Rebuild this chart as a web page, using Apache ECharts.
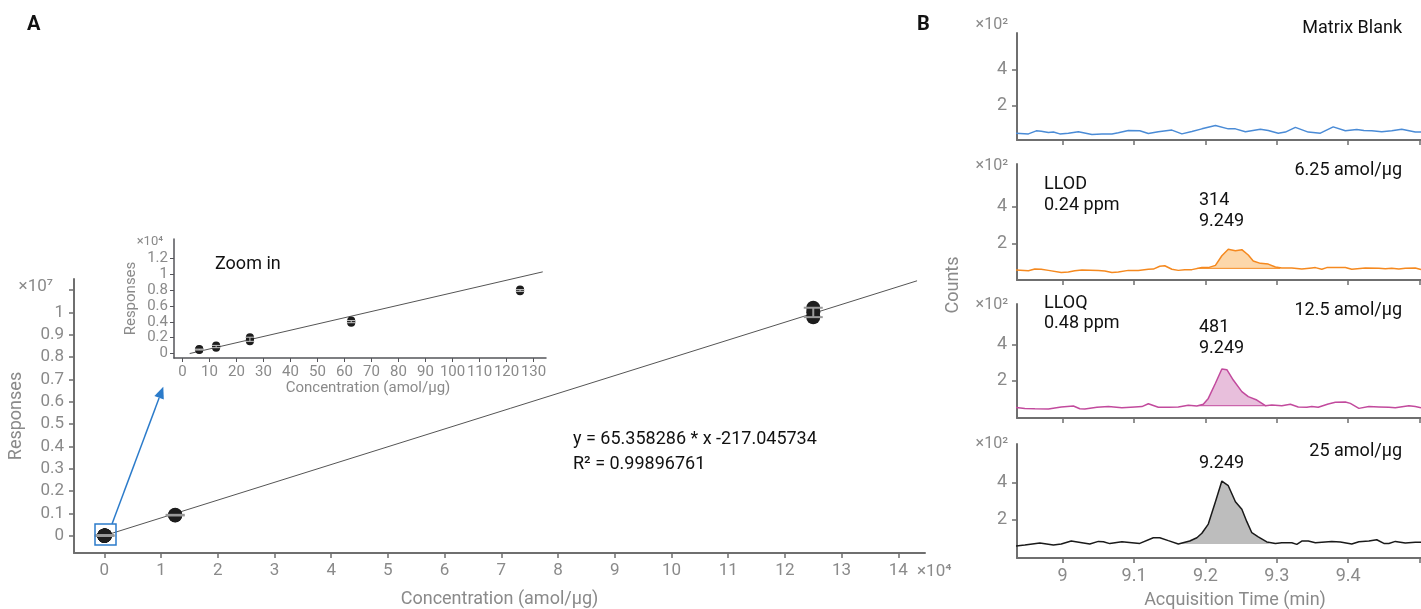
<!DOCTYPE html>
<html><head><meta charset="utf-8">
<script src="https://cdn.jsdelivr.net/npm/echarts@6/dist/echarts.min.js"></script>
<style>html,body{margin:0;padding:0;background:#fff}#c{width:1421px;height:609px}</style>
</head><body><div id="c"></div>
<script>
// ---------- DATA ----------
const concentrations = [6.25, 12.5, 25, 62.5, 125, 12500, 125000]; // amol/μg
const responses = [
  [450, 500, 560],
  [740, 880, 1030],
  [1540, 1800, 2060],
  [3890, 4020, 4160],
  [7840, 7950, 8060],
  [905000, 920000, 935000],
  [9780000, 10000000, 10200000]
];
const mainFit = [[0, 0], [143300, 11410000]];
const insetFit = [[2.7, 0], [133.4, 10300]];
const mainXTicks = [0,1,2,3,4,5,6,7,8,9,10,11,12,13,14];
const mainYLabels = [0,0.1,0.2,0.3,0.4,0.5,0.6,0.7,0.8,0.9,1];
const mainYTicks = [0,0.1,0.2,0.3,0.4,0.5,0.6,0.7,0.8,0.9,1,1.1];
const insetXTicks = [0,10,20,30,40,50,60,70,80,90,100,110,120,130];
const insetYTicks = [0,0.2,0.4,0.6,0.8,1,1.2];
const timeLabels = [9, 9.1, 9.2, 9.3, 9.4];
const timeTicks = [9, 9.1, 9.2, 9.3, 9.4, 9.5];
const countTicks = [200, 400];

const blankT = [8.933,8.952,8.963,8.970,8.980,8.987,8.996,9.008,9.022,9.041,9.055,9.069,9.078,9.092,9.108,9.120,9.134,9.153,9.167,9.181,9.195,9.214,9.232,9.242,9.256,9.277,9.288,9.302,9.312,9.326,9.344,9.361,9.379,9.396,9.412,9.422,9.433,9.447,9.461,9.475,9.494,9.502];
const blankV = [48,44,61,59,52,54,44,48,56,41,43,44,50,63,61,46,56,65,44,57,72,91,72,72,56,70,63,48,54,80,54,48,83,61,69,63,61,56,61,70,54,54];

const c625T = [8.933,8.952,8.961,8.970,8.980,8.998,9.008,9.017,9.027,9.050,9.059,9.069,9.078,9.092,9.106,9.120,9.127,9.136,9.143,9.153,9.162,9.171,9.181,9.195,9.204,9.214,9.223,9.232,9.242,9.251,9.260,9.267,9.277,9.288,9.298,9.307,9.321,9.335,9.349,9.354,9.363,9.370,9.382,9.396,9.405,9.424,9.443,9.452,9.461,9.471,9.480,9.494,9.502];
const c625V = [59,55,64,63,57,46,48,55,59,57,54,46,48,57,57,63,64,79,82,63,57,61,61,73,72,84,136,171,163,169,140,108,95,91,75,70,70,64,70,72,63,72,72,73,63,70,68,66,68,64,68,70,61];
const c625Peak = [9.188, 9.305, 68];

const c125T = [8.933,8.947,8.961,8.980,8.998,9.015,9.024,9.031,9.048,9.064,9.083,9.101,9.111,9.120,9.134,9.148,9.162,9.176,9.188,9.197,9.204,9.214,9.223,9.230,9.239,9.251,9.260,9.272,9.284,9.293,9.307,9.319,9.330,9.342,9.349,9.358,9.372,9.382,9.396,9.403,9.415,9.429,9.443,9.457,9.466,9.485,9.494,9.502];
const c125V = [50,44,42,40,52,57,42,40,50,54,48,52,54,70,50,50,52,61,57,67,100,185,265,261,203,138,110,91,59,63,59,67,52,50,54,50,69,78,80,72,44,54,52,50,48,59,54,48];
const c125Peak = [9.190, 9.285, 59];

const c25T = [8.933,8.947,8.968,8.987,8.998,9.012,9.027,9.038,9.050,9.057,9.066,9.083,9.097,9.108,9.127,9.136,9.148,9.162,9.178,9.188,9.195,9.204,9.214,9.223,9.232,9.242,9.251,9.258,9.265,9.274,9.286,9.298,9.307,9.321,9.328,9.335,9.344,9.354,9.377,9.389,9.405,9.415,9.429,9.440,9.450,9.457,9.466,9.480,9.494,9.502];
const c25V = [57,62,73,62,68,84,75,68,82,80,70,80,75,71,102,102,86,68,84,102,126,176,297,409,384,297,256,189,129,107,79,71,75,75,66,84,84,75,82,79,68,80,84,91,71,71,82,73,77,77];
const c25Peak = [9.162, 9.290, 68];

// ---------- HELPERS ----------
const AX = '#6f6f6f', LB = '#8a8a8a', TXT = '#111', FONT = 'Roboto';
function stats(arr){
  const m = arr.reduce((a,b)=>a+b,0)/arr.length;
  const sd = Math.sqrt(arr.reduce((a,b)=>a+(b-m)*(b-m),0)/(arr.length-1));
  return [m, sd];
}
function errRender(capW, color, lw){
  return function(params, api){
    const x = api.value(0), lo = api.value(1), hi = api.value(2);
    const a = api.coord([x, lo]), b = api.coord([x, hi]);
    const h = capW/2, st = {stroke: color, lineWidth: lw};
    return {type:'group', children:[
      {type:'line', shape:{x1:b[0]-h,y1:b[1],x2:b[0]+h,y2:b[1]}, style:st},
      {type:'line', shape:{x1:a[0]-h,y1:a[1],x2:a[0]+h,y2:a[1]}, style:st},
      {type:'line', shape:{x1:a[0],y1:a[1],x2:b[0],y2:b[1]}, style:st}
    ]};
  };
}
function valAxis(o){
  const base = {
    type:'value', splitLine:{show:false},
    axisLine:{show:true, onZero:false, lineStyle:{color:AX, width:2}},
    axisTick:{show:true, length:5, lineStyle:{color:AX, width:1.5}},
    axisLabel:{color:LB, fontFamily:FONT, fontSize:17}
  };
  const r = Object.assign({}, base, o);
  r.axisLine = Object.assign({}, base.axisLine, o.axisLine||{});
  r.axisTick = Object.assign({}, base.axisTick, o.axisTick||{});
  r.axisLabel = Object.assign({}, base.axisLabel, o.axisLabel||{});
  return r;
}
const fmt = v => String(+(+v).toFixed(2));

// main scatter + error bars
const mainPts = [], insetPts = [], mainErr = [], insetErr = [];
concentrations.forEach((c,i)=>{
  const [m, sd] = stats(responses[i]);
  responses[i].forEach(r => mainPts.push([c/1e4, r/1e7]));
  mainErr.push([c/1e4, (m-sd)/1e7, (m+sd)/1e7]);
  if (c <= 130){
    responses[i].forEach(r => insetPts.push([c, r/1e4]));
    insetErr.push([c, (m-sd)/1e4, (m+sd)/1e4]);
  }
});

const grids = [
  {left:74, top:279, width:851, height:274},
  {left:174, top:239, width:372, height:119},
  {left:1017, top:33, width:404, height:107},
  {left:1017, top:164, width:404, height:116},
  {left:1017, top:304, width:404, height:114},
  {left:1017, top:444, width:404, height:114}
].map(g => Object.assign({containLabel:false, outerBoundsMode:'none'}, g));

const xAxes = [
  valAxis({gridIndex:0, min:-0.534, max:14.47,
    name:'Concentration (amol/μg)', nameLocation:'middle', nameGap:37,
    nameTextStyle:{color:LB, fontFamily:FONT, fontSize:18},
    axisTick:{customValues:mainXTicks}, axisLabel:{customValues:mainXTicks, margin:9, formatter:fmt}}),
  valAxis({gridIndex:1, min:-3.1, max:134.6,
    name:'Concentration (amol/μg)', nameLocation:'middle', nameGap:23,
    nameTextStyle:{color:LB, fontFamily:FONT, fontSize:15, padding:[0,0,0,16]},
    axisLine:{lineStyle:{width:1.5}},
    axisTick:{customValues:insetXTicks, length:4, lineStyle:{width:1}}, axisLabel:{customValues:insetXTicks, margin:7, fontSize:15, formatter:fmt}})
];
const yAxes = [
  valAxis({gridIndex:0, min:-0.0774, max:1.149,
    name:'Responses', nameLocation:'middle', nameGap:49, nameRotate:90,
    nameTextStyle:{color:LB, fontFamily:FONT, fontSize:18},
    axisTick:{customValues:mainYTicks}, axisLabel:{customValues:mainYLabels, margin:10, formatter:fmt}}),
  valAxis({gridIndex:1, min:-0.056, max:1.444,
    name:'Responses', nameLocation:'middle', nameGap:35, nameRotate:90,
    nameTextStyle:{color:LB, fontFamily:FONT, fontSize:15},
    axisLine:{lineStyle:{width:1.5}},
    axisTick:{customValues:insetYTicks, length:4, lineStyle:{width:1}}, axisLabel:{customValues:insetYTicks, margin:6, fontSize:15, formatter:fmt}})
];
const yRanges = [[10,605],[5,632],[-10,630],[-8,610]];
for (let k=0;k<4;k++){
  xAxes.push(valAxis({gridIndex:k+2, min:8.936, max:9.502,
    axisTick:{customValues:timeTicks},
    axisLabel:{show:k===3, customValues:timeLabels, margin:9, fontSize:18, formatter:fmt}}));
  yAxes.push(valAxis({gridIndex:k+2, min:yRanges[k][0], max:yRanges[k][1],
    axisTick:{customValues:countTicks},
    axisLabel:{customValues:countTicks, margin:10, fontSize:18, formatter:v=>String(Math.round(v/100))}}));
}

const series = [
  {type:'line', xAxisIndex:0, yAxisIndex:0, data:mainFit.map(p=>[p[0]/1e4,p[1]/1e7]), symbol:'none',
   lineStyle:{color:'#555', width:1}, z:2},
  {type:'scatter', xAxisIndex:0, yAxisIndex:0, data:mainPts, symbolSize:14, itemStyle:{color:'#1d1d1d', opacity:1}, z:3},
  {type:'custom', xAxisIndex:0, yAxisIndex:0, data:mainErr, renderItem:errRender(19,'#9a9a9a',2), z:4},
  {type:'line', xAxisIndex:1, yAxisIndex:1, data:insetFit.map(p=>[p[0],p[1]/1e4]), symbol:'none',
   lineStyle:{color:'#555', width:1}, z:2},
  {type:'scatter', xAxisIndex:1, yAxisIndex:1, data:insetPts, symbolSize:8, itemStyle:{color:'#1d1d1d', opacity:1}, z:3},
  {type:'custom', xAxisIndex:1, yAxisIndex:1, data:insetErr, renderItem:errRender(9,'#c8c8c8',1), z:4}
];
const traces = [
  {T:blankT, V:blankV, peak:null, color:'#4a8bd6', fill:null},
  {T:c625T, V:c625V, peak:c625Peak, color:'#f5891f', fill:'#fcd7aa', base:true},
  {T:c125T, V:c125V, peak:c125Peak, color:'#c24a9d', fill:'#e8bfdc', base:true},
  {T:c25T, V:c25V, peak:c25Peak, color:'#1a1a1a', fill:'#bdbdbd', base:false}
];
traces.forEach((tr,k)=>{
  const ax = k+2;
  if (tr.peak){
    const [s,e,b] = tr.peak;
    const fill = [[s,b]];
    tr.T.forEach((t,i)=>{ if (t>s && t<e) fill.push([t, tr.V[i]]); });
    fill.push([e,b]);
    series.push({type:'line', xAxisIndex:ax, yAxisIndex:ax, data:fill, symbol:'none',
      lineStyle:{opacity:0}, areaStyle:{color:tr.fill, opacity:1, origin:b}, z:1});
    if (tr.base) series.push({type:'line', xAxisIndex:ax, yAxisIndex:ax, data:[[s,b],[e,b]], symbol:'none',
      lineStyle:{color:tr.color, width:1}, z:2});
  }
  series.push({type:'line', xAxisIndex:ax, yAxisIndex:ax, data:tr.T.map((t,i)=>[t,tr.V[i]]), symbol:'none',
    lineStyle:{color:tr.color, width:1.5}, z:3});
});

function txt(x, y, s, o){
  o = o||{};
  return {type:'text', x:x, y:y, silent:true, z:100, style:{text:s, fill:o.color||TXT,
    font:(o.weight||'normal')+' '+(o.size||18)+'px '+FONT,
    align:o.align||'left', verticalAlign:'middle', textAlign:o.align||'left', textVerticalAlign:'middle'}};
}
const graphics = [
  txt(27, 25, 'A', {weight:'bold', size:20}),
  txt(917, 25, 'B', {weight:'bold', size:20}),
  txt(53, 287, '×10⁷', {color:LB, size:17, align:'right'}),
  txt(917, 572, '×10⁴', {color:LB, size:17}),
  txt(163, 242, '×10⁴', {color:LB, size:13, align:'right'}),
  txt(215, 264, 'Zoom in'),
  txt(573, 439, 'y = 65.358286 * x -217.045734'),
  txt(573, 464, 'R² = 0.99896761'),
  txt(1008, 25, '×10²', {color:LB, size:16, align:'right'}),
  txt(1008, 166, '×10²', {color:LB, size:16, align:'right'}),
  txt(1008, 305, '×10²', {color:LB, size:16, align:'right'}),
  txt(1008, 444, '×10²', {color:LB, size:16, align:'right'}),
  txt(1402, 28, 'Matrix Blank', {align:'right'}),
  txt(1402, 170, '6.25 amol/μg', {align:'right'}),
  txt(1044, 184, 'LLOD'),
  txt(1044, 205, '0.24 ppm'),
  txt(1199, 200, '314'),
  txt(1199, 221, '9.249'),
  txt(1402, 310, '12.5 amol/μg', {align:'right'}),
  txt(1044, 303, 'LLOQ'),
  txt(1044, 323, '0.48 ppm'),
  txt(1199, 327, '481'),
  txt(1199, 348, '9.249'),
  txt(1402, 451, '25 amol/μg', {align:'right'}),
  txt(1199, 463, '9.249'),
  txt(1235, 600, 'Acquisition Time (min)', {color:LB, align:'center'}),
  Object.assign(txt(953, 285, 'Counts', {color:LB, align:'center'}), {rotation:Math.PI/2}),
  {type:'rect', shape:{x:95, y:524, width:21, height:21}, style:{fill:'none', stroke:'#2b7bca', lineWidth:1.5}, z:100},
  {type:'line', shape:{x1:112, y1:524, x2:159.1, y2:397.9}, style:{stroke:'#2b7bca', lineWidth:1.5}, z:100},
  {type:'polygon', shape:{points:[[163.3,386.7],[163.8,399.6],[154.4,396.1]]}, style:{fill:'#2b7bca'}, z:100}
];

const chart = echarts.init(document.getElementById('c'));
chart.setOption({
  animation:false,
  backgroundColor:'#fff',
  textStyle:{fontFamily:FONT},
  grid:grids, xAxis:xAxes, yAxis:yAxes, series:series, graphic:graphics
});
</script></body></html>
